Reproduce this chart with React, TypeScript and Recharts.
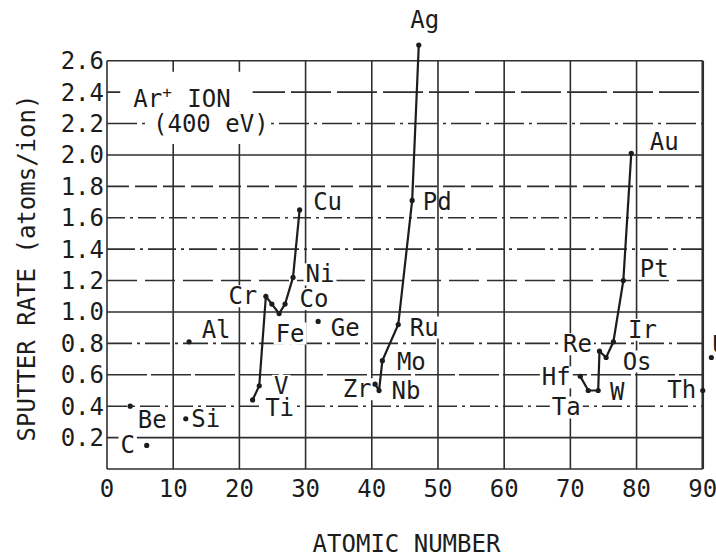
import React from 'react';
import {
  ComposedChart,
  CartesianGrid,
  XAxis,
  YAxis,
  Line,
  Scatter,
  ReferenceArea,
} from 'recharts';

const FONT = '"DejaVu Sans Mono", monospace';
const INK = '#1c1c1c';
const GRID = '#2e2e2e';

// axes
const X_TICKS = [0, 10, 20, 30, 40, 50, 60, 70, 80, 90];
const Y_TICKS = [0, 0.2, 0.4, 0.6, 0.8, 1.0, 1.2, 1.4, 1.6, 1.8, 2.0, 2.2, 2.4, 2.6];
const Y_MAX = 2.7; // Ag goes past the frame
const X_MAX = 92; // U sits right of the frame

// 4th period transition metals
const ROW4_NAMES = ['Ti', 'V', 'Cr', 'Mn', 'Fe', 'Co', 'Ni', 'Cu'];
const ROW4_Z = [22.0, 23.0, 24.0, 24.9, 26.0, 26.9, 28.1, 29.1];
const ROW4_RATE = [0.44, 0.53, 1.1, 1.05, 0.99, 1.05, 1.22, 1.65];

// 5th period
const ROW5_NAMES = ['Zr', 'Nb', 'Mo', 'Ru', 'Pd', 'Ag'];
const ROW5_Z = [40.5, 41.1, 41.6, 44.0, 46.1, 47.1];
const ROW5_RATE = [0.54, 0.5, 0.69, 0.92, 1.71, 2.7];

// 6th period
const ROW6_NAMES = ['Hf', 'Ta', 'W', 'Re', 'Os', 'Ir', 'Pt', 'Au'];
const ROW6_Z = [71.5, 72.7, 74.2, 74.4, 75.4, 76.5, 78.0, 79.2];
const ROW6_RATE = [0.59, 0.5, 0.5, 0.75, 0.71, 0.81, 1.2, 2.01];

// single points
const SINGLE_NAMES = ['Be', 'C', 'Al', 'Si', 'Ge', 'Th', 'U'];
const SINGLE_Z = [3.5, 6.0, 12.4, 11.9, 31.9, 90.0, 91.3];
const SINGLE_RATE = [0.4, 0.15, 0.81, 0.32, 0.94, 0.5, 0.71];

// label placement (px, centre of text relative to the point)
const LABEL_POS: Record<string, { dx: number; dy: number; clear?: boolean }> = {
  C: { dx: -19, dy: 0 },
  Be: { dx: 22, dy: 14 },
  Si: { dx: 20, dy: 0 },
  Al: { dx: 27, dy: -12 },
  Ti: { dx: 27, dy: 8 },
  V: { dx: 22, dy: 0 },
  Cr: { dx: -23, dy: 0 },
  Fe: { dx: 11, dy: 20 },
  Co: { dx: 29, dy: -5 },
  Ni: { dx: 27, dy: -3 },
  Cu: { dx: 28, dy: -8 },
  Ge: { dx: 27, dy: 7 },
  Zr: { dx: -18, dy: 5 },
  Nb: { dx: 27, dy: 1 },
  Mo: { dx: 29, dy: 1 },
  Ru: { dx: 26, dy: 3 },
  Pd: { dx: 25, dy: 2, clear: false },
  Ag: { dx: 6, dy: -25 },
  Hf: { dx: -24, dy: 1 },
  Ta: { dx: -22, dy: 17 },
  W: { dx: 19, dy: 2 },
  Re: { dx: -22, dy: -7 },
  Os: { dx: 31, dy: 4 },
  Ir: { dx: 29, dy: -12 },
  Pt: { dx: 31, dy: -12 },
  Au: { dx: 33, dy: -11 },
  Th: { dx: -21, dy: 0 },
  U: { dx: 8, dy: -13 },
};

// dash pattern for each horizontal grid line, same order as Y_TICKS
const H_DASH = [
  undefined, undefined, '20 5 3 5', '40 4', '25 5 3 5', undefined, '30 8',
  '28 5 3 5', '18 5 3 5', '22 6', undefined, '30 5 3 5', '40 6', undefined,
];

type Pt = { name: string; z: number; rate: number };
const toPoints = (names: string[], z: number[], rate: number[]): Pt[] =>
  names.map((name, i) => ({ name, z: z[i], rate: rate[i] }));

const row4 = toPoints(ROW4_NAMES, ROW4_Z, ROW4_RATE);
const row5 = toPoints(ROW5_NAMES, ROW5_Z, ROW5_RATE);
const row6 = toPoints(ROW6_NAMES, ROW6_Z, ROW6_RATE);
const singles = toPoints(SINGLE_NAMES, SINGLE_Z, SINGLE_RATE);
const allPoints = [...row4, ...row5, ...row6, ...singles];

const textStyle = { fontFamily: FONT, fontSize: 24, fill: INK };

function HLine(p: any) {
  const right = p.x1 + (p.x2 - p.x1) * (90 / X_MAX);
  const i = p.index ?? 0;
  return (
    <line
      key={p.key}
      x1={p.x1}
      x2={right}
      y1={p.y1}
      y2={p.y2}
      stroke={GRID}
      strokeWidth={1.6}
      strokeDasharray={H_DASH[i]}
    />
  );
}

function VLine(p: any) {
  const top = p.y2 - (p.y2 - p.y1) * (2.6 / Y_MAX);
  const last = p.index === X_TICKS.length - 1;
  return (
    <line
      key={p.key}
      x1={p.x1}
      x2={p.x2}
      y1={top}
      y2={p.y2}
      stroke={GRID}
      strokeWidth={last ? 2.6 : 1.6}
    />
  );
}

function LabelMark(props: any) {
  const { cx, cy, payload } = props;
  const pos = payload ? LABEL_POS[payload.name] : undefined;
  if (!pos || cx == null || cy == null) return <g />;
  const x = cx + pos.dx;
  const y = cy + pos.dy;
  const w = payload.name.length * 14.45 + 4;
  return (
    <g>
      {pos.clear !== false && <rect x={x - w / 2} y={y - 11} width={w} height={22} fill="#fff" />}
      <text x={x} y={y} textAnchor="middle" dominantBaseline="central" {...textStyle}>
        {payload.name}
      </text>
    </g>
  );
}

function Dot(props: any) {
  const { cx, cy } = props;
  if (cx == null) return <g />;
  return <circle cx={cx} cy={cy} r={2.6} fill={INK} />;
}

export default function App() {
  return (
    <div style={{ position: 'absolute', left: 0, top: 0, background: '#fff' }}>
      <ComposedChart width={716} height={557} margin={{ top: 45, right: 0, bottom: 0, left: 0 }}>
        <CartesianGrid
          horizontalValues={Y_TICKS}
          verticalValues={X_TICKS}
          syncWithTicks
          horizontal={HLine}
          vertical={VLine}
        />
        <XAxis
          type="number"
          dataKey="z"
          domain={[0, X_MAX]}
          ticks={X_TICKS}
          interval={0}
          height={88}
          axisLine={false}
          tickLine={false}
          tickSize={0}
          tickMargin={11}
          tick={textStyle}
          label={(p: any) => {
            const vb = p.viewBox || { x: 107, y: 469, width: 609 };
            return (
              <text x={vb.x + vb.width / 2 - 5} y={vb.y + 83} textAnchor="middle" {...textStyle}>
                ATOMIC NUMBER
              </text>
            );
          }}
        />
        <YAxis
          type="number"
          dataKey="rate"
          domain={[0, Y_MAX]}
          ticks={Y_TICKS}
          interval={0}
          width={107}
          axisLine={false}
          tickLine={false}
          tickSize={0}
          tickMargin={3}
          tick={textStyle}
          tickFormatter={(v: number) => (v === 0 ? '' : v.toFixed(1))}
          label={() => (
            <text
              x={27}
              y={268}
              transform="rotate(-90 27 268)"
              textAnchor="middle"
              dominantBaseline="central"
              {...textStyle}
            >
              SPUTTER RATE (atoms/ion)
            </text>
          )}
        />

        <ReferenceArea
          x1={2.0}
          x2={22.0}
          y1={2.275}
          y2={2.53}
          fill="#fff"
          fillOpacity={1}
          stroke="none"
          ifOverflow="visible"
          label={(p: any) => {
            const vb = p.viewBox;
            return (
              <text x={vb.x + 13} y={vb.y + 35} {...textStyle}>
                <tspan>Ar</tspan>
                <tspan dy={-9} fontSize={16}>+</tspan>
                <tspan x={vb.x + 67} dy={9}>ION</tspan>
              </text>
            );
          }}
        />
        <ReferenceArea
          x1={6.5}
          x2={24.6}
          y1={2.07}
          y2={2.275}
          fill="#fff"
          fillOpacity={1}
          stroke="none"
          ifOverflow="visible"
          label={(p: any) => {
            const vb = p.viewBox;
            return (
              <text x={vb.x + 3} y={vb.y + 20} {...textStyle}>
                (400 eV)
              </text>
            );
          }}
        />

        {/* element names, drawn under the curves */}
        <Scatter data={allPoints} shape={LabelMark} isAnimationActive={false} />

        <Line data={row4} dataKey="rate" type="linear" stroke={INK} strokeWidth={2.2} dot={<Dot />} activeDot={false} isAnimationActive={false} />
        <Line data={row5} dataKey="rate" type="linear" stroke={INK} strokeWidth={2.2} dot={<Dot />} activeDot={false} isAnimationActive={false} />
        <Line data={row6} dataKey="rate" type="linear" stroke={INK} strokeWidth={2.2} dot={<Dot />} activeDot={false} isAnimationActive={false} />
        <Scatter data={singles} shape={Dot} isAnimationActive={false} />
      </ComposedChart>
    </div>
  );
}
